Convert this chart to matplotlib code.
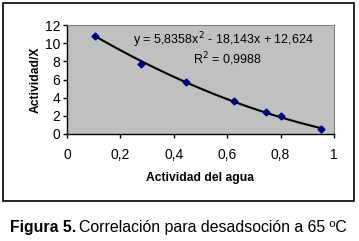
import numpy as np
import matplotlib.pyplot as plt
from matplotlib.patches import Rectangle

plt.rcParams['font.family'] = ['Liberation Sans', 'DejaVu Sans']

# data
aw = [0.105, 0.277, 0.445, 0.625, 0.745, 0.80, 0.95]
act_x = [10.8, 7.7, 5.7, 3.6, 2.4, 2.0, 0.6]
# trend line coefficients shown in the chart (a*x^2 + b*x + c)
coef = [5.8358, -18.143, 12.624]
x_ticks = [0, 0.2, 0.4, 0.6, 0.8, 1.0]
x_tick_labels = ['0', '0,2', '0,4', '0,6', '0,8', '1']
y_ticks = [0, 2, 4, 6, 8, 10, 12]

fig = plt.figure(figsize=(3.59, 2.41), dpi=100)

# outer chart frame
fig.patches.append(Rectangle((0.0084, 0.166), 0.978, 0.822, transform=fig.transFigure,
                             fill=False, edgecolor='black', linewidth=1.2))

ax = fig.add_axes([0.1866, 0.444, 0.7437, 0.452])
ax.set_facecolor('#C0C0C0')

xs = np.linspace(min(aw), max(aw), 100)
ax.plot(xs, np.polyval(coef, xs), color='black', linewidth=1.5, zorder=2)
ax.plot(aw, act_x, linestyle='none', marker='D', markersize=3.5,
        color='#000080', zorder=3)

ax.set_xlim(0, 1)
ax.set_ylim(0, 12)
ax.set_xticks(x_ticks)
ax.set_xticklabels(x_tick_labels)
ax.set_yticks(y_ticks)
ax.tick_params(direction='out', length=3, width=1, labelsize=10, pad=2)
ax.tick_params(axis='x', pad=7)

for side in ['top', 'right']:
    ax.spines[side].set_color('#808080')
    ax.spines[side].set_linewidth(0.8)
for side in ['left', 'bottom']:
    ax.spines[side].set_color('black')
    ax.spines[side].set_linewidth(1)

ax.set_xlabel('Actividad del agua', fontsize=8.7, fontweight='bold', labelpad=7)
ax.set_ylabel('Actividad/X', fontsize=8.7, fontweight='bold', labelpad=2)

ax.text(0.585, 0.86, 'y = 5,8358x$^2$ - 18,143x + 12,624', transform=ax.transAxes,
        ha='center', va='center', fontsize=9)
ax.text(0.60, 0.69, 'R$^2$ = 0,9988', transform=ax.transAxes,
        ha='center', va='center', fontsize=9)

# caption: bold part, then normal part placed right after it
cap1 = fig.text(10 / 359, 0.037, 'Figura 5.', fontsize=11.4, fontweight='bold',
                ha='left', va='baseline')
fig.canvas.draw()
bb = cap1.get_window_extent()
fig.text((bb.x1 + 3) / fig.bbox.width, 0.037, 'Correlación para desadsoción a 65 ºC',
         fontsize=11.4, ha='left', va='baseline')

fig.savefig('out.png', dpi=100)
